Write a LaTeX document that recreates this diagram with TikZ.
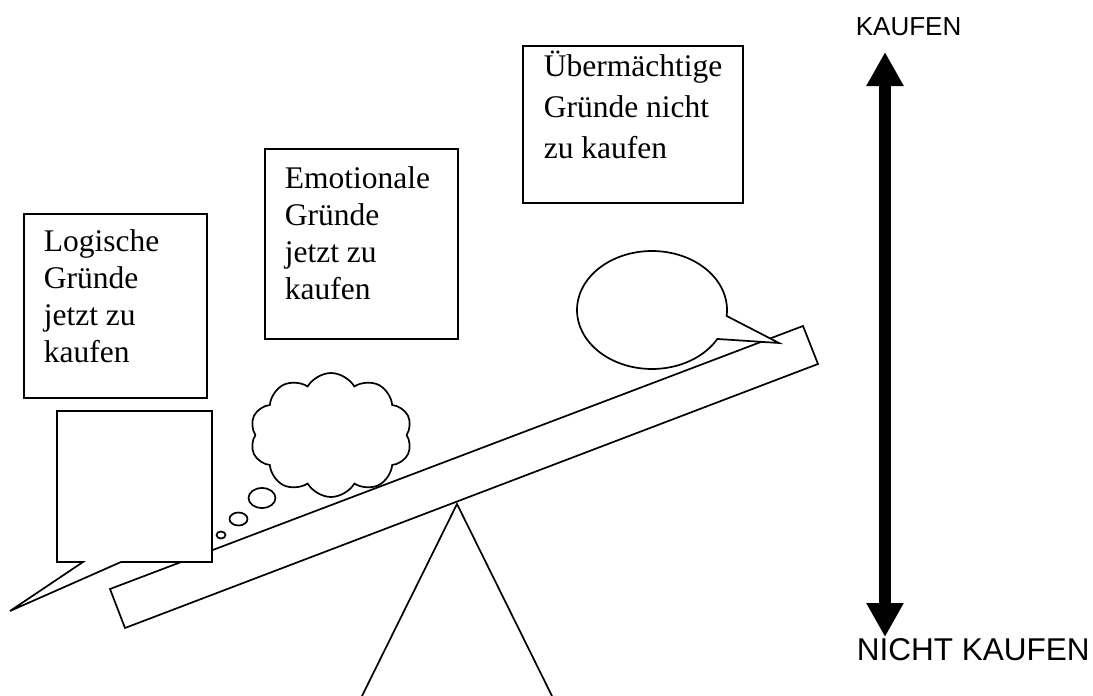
\documentclass[tikz,border=0pt]{standalone}
\usepackage{fontspec}
\setmainfont{Liberation Serif}
\newfontfamily\arialfont{Liberation Sans}
\usetikzlibrary{shapes.symbols,shapes.geometric,arrows.meta}
\begin{document}
\begin{tikzpicture}[x=1pt,y=-1pt, line width=1.7pt, line join=miter,
  frame/.style={draw, rectangle, inner sep=0pt, anchor=north west, fill=white},
  boxtext/.style={inner sep=0pt, align=left, anchor=base west, font=\fontsize{31.5}{37}\selectfont},
  shapeline/.style={draw, fill=white},
  bubble/.style={draw, fill=white, ellipse, inner sep=0pt},
  label/.style={inner sep=0pt, anchor=base west}]
\fill[white] (0,0) rectangle (1093,696);
\useasboundingbox (0,0) rectangle (1093,696);
% seesaw
\draw[shapeline] (110,589) -- (803,326) -- (818,364) -- (125,628) -- cycle;
\coordinate (apex) at (457,504);
\coordinate (footL) at (362,696);
\coordinate (footR) at (552,696);
\draw (footL) -- (apex) -- (footR);
% text boxes (text anchored at the baseline of its last line)
\node[frame, minimum width=183pt, minimum height=184pt] (logbox) at (23,213) {};
\node[boxtext] (logtext) at (43,362) {Logische\\Gründe\\jetzt zu\\kaufen};
\node[frame, minimum width=193pt, minimum height=190pt] (emobox) at (264,148) {};
\node[boxtext] (emotext) at (284,299) {Emotionale\\Gründe\\jetzt zu\\kaufen};
\node[frame, minimum width=220pt, minimum height=157pt] (uebbox) at (522,45) {};
\node[boxtext, font=\fontsize{31.5}{41}\selectfont] (uebtext) at (543,158) {Übermächtige\\Gründe nicht\\zu kaufen};
% rectangular speech callout
\draw[shapeline] (57,411) -- (212,411) -- (212,562) -- (121,562) -- (10,611) -- (83,562) -- (57,562) -- cycle;
% thought cloud
\node[cloud, draw, fill=white, cloud puffs=10, cloud puff arc=120, minimum width=162pt, minimum height=124pt, inner sep=0pt] (cloud) at (331,435) {};
\node[bubble, minimum width=27pt, minimum height=20pt] (b1) at (262,498) {};
\node[bubble, minimum width=18pt, minimum height=13pt] (b2) at (238.5,519) {};
\node[bubble, minimum width=9pt, minimum height=7pt] (b3) at (221,535) {};
% oval callout
\draw[shapeline] plot[domain=-5.8:330.6, samples=120] ({652+75*cos(\x)},{310-59*sin(\x)}) -- (779,343) -- cycle;
% arrow
\coordinate (up) at (885,52);
\coordinate (down) at (885,637);
\draw[line width=12pt, {Triangle[length=34pt,width=35pt]}-{Triangle[length=34pt,width=35pt]}] (down) -- (up);
\node[label, font=\arialfont\fontsize{26}{30}\selectfont] (kaufen) at (855,35) {KAUFEN};
\node[label, font=\arialfont\fontsize{31.5}{36}\selectfont] (nicht) at (856,660) {NICHT KAUFEN};
\end{tikzpicture}
\end{document}
